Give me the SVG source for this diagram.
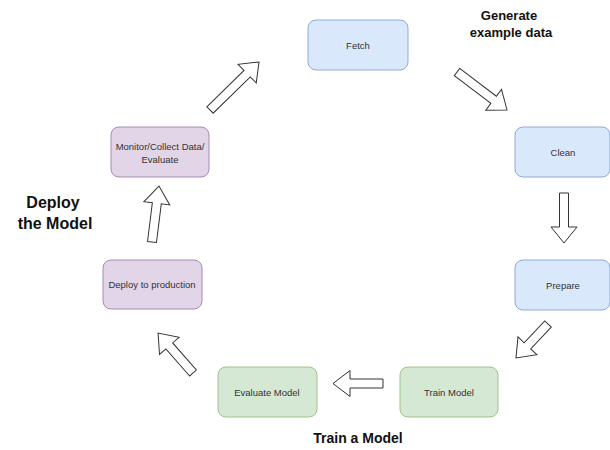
<svg xmlns="http://www.w3.org/2000/svg" width="610" height="450" viewBox="0 0 610 450">
<style>
.blue{fill:#dae8fc;stroke:#8fa9d4;stroke-width:1}
.purple{fill:#e1d5e7;stroke:#a68bb5;stroke-width:1}
.green{fill:#d5e8d4;stroke:#9cc48a;stroke-width:1}
.lbl{font-family:"Liberation Sans",Arial,sans-serif;font-size:9.5px;fill:#333;text-anchor:middle;dominant-baseline:central}
.hdr{font-family:"Liberation Sans",Arial,sans-serif;font-weight:bold;fill:#111;text-anchor:middle}
.arr{fill:#fff;stroke:#333;stroke-width:1;stroke-linejoin:miter}
</style>
<rect width="610" height="450" fill="#fff"/>
<g id="fetch"><rect class="blue" x="308" y="20" width="100" height="50" rx="8"/><text class="lbl" x="358" y="45">Fetch</text></g>
<g id="clean"><rect class="blue" x="515" y="127" width="95" height="50" rx="8"/><text class="lbl" x="563" y="152">Clean</text></g>
<g id="prepare"><rect class="blue" x="515" y="260" width="95" height="50" rx="8"/><text class="lbl" x="563" y="285">Prepare</text></g>
<g id="train"><rect class="green" x="400" y="367" width="98" height="50" rx="8"/><text class="lbl" x="449" y="392">Train Model</text></g>
<g id="evaluate"><rect class="green" x="218" y="367" width="99" height="50" rx="8"/><text class="lbl" x="267" y="392">Evaluate Model</text></g>
<g id="deploy"><rect class="purple" x="103" y="260" width="99" height="49" rx="8"/><text class="lbl" x="152" y="284.5">Deploy to production</text></g>
<g id="monitor"><rect class="purple" x="111" y="127" width="98" height="50" rx="8"/><text class="lbl" x="160" y="146">Monitor/Collect Data/</text><text class="lbl" x="160" y="159">Evaluate</text></g>
<g id="labels">
<text class="hdr" x="509" y="20" font-size="13">Generate</text>
<text class="hdr" x="511" y="37" font-size="13">example data</text>
<text class="hdr" x="53" y="208" font-size="16">Deploy</text>
<text class="hdr" x="55" y="229" font-size="16">the Model</text>
<text class="hdr" x="358" y="443" font-size="14">Train a Model</text>
</g>
<g id="connectors">
<polygon class="arr" transform="translate(210,110) rotate(-44.4)" points="0,-4.5 52,-4.5 52,-13 68.6,0 52,13 52,4.5 0,4.5"/>
<polygon class="arr" transform="translate(457,72) rotate(37.2)" points="0,-4.5 46,-4.5 46,-13 62.8,0 46,13 46,4.5 0,4.5"/>
<polygon class="arr" transform="translate(564,193) rotate(90)" points="0,-4.5 34,-4.5 34,-13 50,0 34,13 34,4.5 0,4.5"/>
<polygon class="arr" transform="translate(548,324) rotate(133.3)" points="0,-4.5 30,-4.5 30,-13 46.7,0 30,13 30,4.5 0,4.5"/>
<polygon class="arr" transform="translate(383,383.5) rotate(180)" points="0,-4.5 33,-4.5 33,-13 50,0 33,13 33,4.5 0,4.5"/>
<polygon class="arr" transform="translate(193,373) rotate(228.8)" points="0,-4.5 36,-4.5 36,-13 53,0 36,13 36,4.5 0,4.5"/>
<polygon class="arr" transform="translate(152,242) rotate(-82.9)" points="0,-4.5 39,-4.5 39,-13 56.4,0 39,13 39,4.5 0,4.5"/>
</g>
</svg>
